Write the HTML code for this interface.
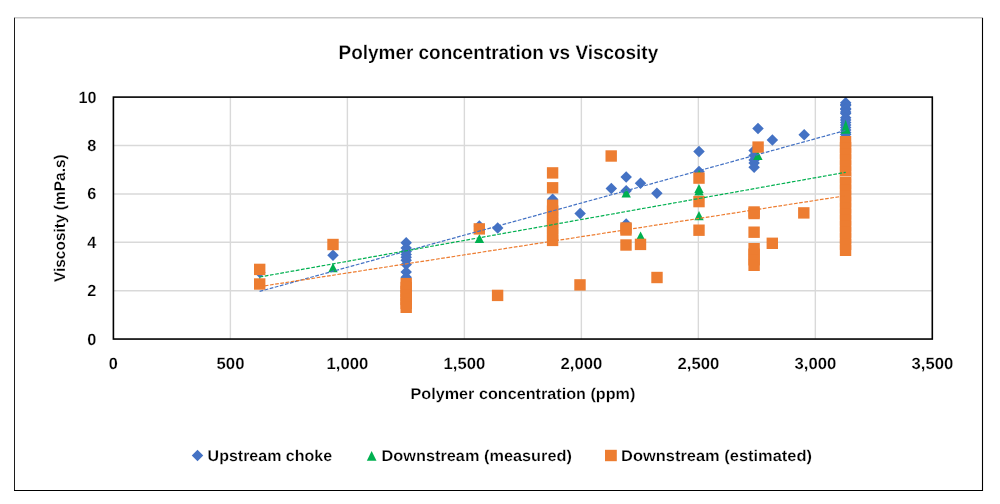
<!DOCTYPE html>
<html><head><meta charset="utf-8"><title>Polymer concentration vs Viscosity</title>
<style>html,body{margin:0;padding:0;background:#fff;width:1000px;height:504px;overflow:hidden}svg{display:block}</style>
</head><body>
<svg width="1000" height="504" viewBox="0 0 1000 504">
<rect x="0" y="0" width="1000" height="504" fill="#fff"/>
<line x1="14.5" y1="17.6" x2="14.5" y2="491" stroke="#1c1c1c" stroke-width="1"/>
<line x1="982.5" y1="17.8" x2="982.5" y2="491" stroke="#000" stroke-width="1.1"/>
<line x1="14" y1="490.5" x2="983" y2="490.5" stroke="#000" stroke-width="1.1"/>
<line x1="15" y1="17.8" x2="982" y2="17.8" stroke="#C8C8C8" stroke-width="1.5"/>
<line x1="230.39" y1="97" x2="230.39" y2="339" stroke="#D9D9D9" stroke-width="1.4"/>
<line x1="347.38" y1="97" x2="347.38" y2="339" stroke="#D9D9D9" stroke-width="1.4"/>
<line x1="464.37" y1="97" x2="464.37" y2="339" stroke="#D9D9D9" stroke-width="1.4"/>
<line x1="581.36" y1="97" x2="581.36" y2="339" stroke="#D9D9D9" stroke-width="1.4"/>
<line x1="698.35" y1="97" x2="698.35" y2="339" stroke="#D9D9D9" stroke-width="1.4"/>
<line x1="815.34" y1="97" x2="815.34" y2="339" stroke="#D9D9D9" stroke-width="1.4"/>
<line x1="113.4" y1="290.66" x2="932.3" y2="290.66" stroke="#D9D9D9" stroke-width="1.5"/>
<line x1="113.4" y1="242.27" x2="932.3" y2="242.27" stroke="#D9D9D9" stroke-width="1.5"/>
<line x1="113.4" y1="193.88" x2="932.3" y2="193.88" stroke="#D9D9D9" stroke-width="1.5"/>
<line x1="113.4" y1="145.49" x2="932.3" y2="145.49" stroke="#D9D9D9" stroke-width="1.5"/>
<path d="M259.80 266.85L265.55 272.60L259.80 278.35L254.05 272.60Z" fill="#4472C4"/>
<path d="M333.00 249.55L338.75 255.30L333.00 261.05L327.25 255.30Z" fill="#4472C4"/>
<path d="M406.20 236.90L411.95 242.65L406.20 248.40L400.45 242.65Z" fill="#4472C4"/>
<path d="M406.20 242.30L411.95 248.05L406.20 253.80L400.45 248.05Z" fill="#4472C4"/>
<path d="M406.20 245.75L411.95 251.50L406.20 257.25L400.45 251.50Z" fill="#4472C4"/>
<path d="M406.20 248.75L411.95 254.50L406.20 260.25L400.45 254.50Z" fill="#4472C4"/>
<path d="M406.20 251.55L411.95 257.30L406.20 263.05L400.45 257.30Z" fill="#4472C4"/>
<path d="M406.20 254.45L411.95 260.20L406.20 265.95L400.45 260.20Z" fill="#4472C4"/>
<path d="M406.20 258.85L411.95 264.60L406.20 270.35L400.45 264.60Z" fill="#4472C4"/>
<path d="M406.20 266.25L411.95 272.00L406.20 277.75L400.45 272.00Z" fill="#4472C4"/>
<path d="M406.20 271.45L411.95 277.20L406.20 282.95L400.45 277.20Z" fill="#4472C4"/>
<path d="M479.30 220.15L485.05 225.90L479.30 231.65L473.55 225.90Z" fill="#4472C4"/>
<path d="M497.70 222.35L503.45 228.10L497.70 233.85L491.95 228.10Z" fill="#4472C4"/>
<path d="M552.60 193.55L558.35 199.30L552.60 205.05L546.85 199.30Z" fill="#4472C4"/>
<path d="M580.10 207.65L585.85 213.40L580.10 219.15L574.35 213.40Z" fill="#4472C4"/>
<path d="M611.30 182.75L617.05 188.50L611.30 194.25L605.55 188.50Z" fill="#4472C4"/>
<path d="M626.20 171.35L631.95 177.10L626.20 182.85L620.45 177.10Z" fill="#4472C4"/>
<path d="M626.20 185.05L631.95 190.80L626.20 196.55L620.45 190.80Z" fill="#4472C4"/>
<path d="M626.20 218.25L631.95 224.00L626.20 229.75L620.45 224.00Z" fill="#4472C4"/>
<path d="M640.50 177.55L646.25 183.30L640.50 189.05L634.75 183.30Z" fill="#4472C4"/>
<path d="M656.90 187.45L662.65 193.20L656.90 198.95L651.15 193.20Z" fill="#4472C4"/>
<path d="M699.00 145.65L704.75 151.40L699.00 157.15L693.25 151.40Z" fill="#4472C4"/>
<path d="M699.00 165.75L704.75 171.50L699.00 177.25L693.25 171.50Z" fill="#4472C4"/>
<path d="M758.00 122.75L763.75 128.50L758.00 134.25L752.25 128.50Z" fill="#4472C4"/>
<path d="M772.40 134.15L778.15 139.90L772.40 145.65L766.65 139.90Z" fill="#4472C4"/>
<path d="M754.10 144.75L759.85 150.50L754.10 156.25L748.35 150.50Z" fill="#4472C4"/>
<path d="M754.10 149.75L759.85 155.50L754.10 161.25L748.35 155.50Z" fill="#4472C4"/>
<path d="M754.10 154.25L759.85 160.00L754.10 165.75L748.35 160.00Z" fill="#4472C4"/>
<path d="M754.10 157.25L759.85 163.00L754.10 168.75L748.35 163.00Z" fill="#4472C4"/>
<path d="M754.10 161.55L759.85 167.30L754.10 173.05L748.35 167.30Z" fill="#4472C4"/>
<path d="M804.20 129.05L809.95 134.80L804.20 140.55L798.45 134.80Z" fill="#4472C4"/>
<path d="M845.70 96.95L851.45 102.70L845.70 108.45L839.95 102.70Z" fill="#4472C4"/>
<path d="M845.70 98.75L851.45 104.50L845.70 110.25L839.95 104.50Z" fill="#4472C4"/>
<path d="M845.70 99.75L851.45 105.50L845.70 111.25L839.95 105.50Z" fill="#4472C4"/>
<path d="M845.70 102.85L851.45 108.60L845.70 114.35L839.95 108.60Z" fill="#4472C4"/>
<path d="M845.70 103.85L851.45 109.60L845.70 115.35L839.95 109.60Z" fill="#4472C4"/>
<path d="M845.70 106.25L851.45 112.00L845.70 117.75L839.95 112.00Z" fill="#4472C4"/>
<path d="M845.70 107.65L851.45 113.40L845.70 119.15L839.95 113.40Z" fill="#4472C4"/>
<path d="M845.70 112.05L851.45 117.80L845.70 123.55L839.95 117.80Z" fill="#4472C4"/>
<path d="M845.70 114.25L851.45 120.00L845.70 125.75L839.95 120.00Z" fill="#4472C4"/>
<path d="M845.70 116.75L851.45 122.50L845.70 128.25L839.95 122.50Z" fill="#4472C4"/>
<path d="M845.70 119.25L851.45 125.00L845.70 130.75L839.95 125.00Z" fill="#4472C4"/>
<path d="M845.70 121.75L851.45 127.50L845.70 133.25L839.95 127.50Z" fill="#4472C4"/>
<path d="M845.70 124.25L851.45 130.00L845.70 135.75L839.95 130.00Z" fill="#4472C4"/>
<path d="M845.70 126.75L851.45 132.50L845.70 138.25L839.95 132.50Z" fill="#4472C4"/>
<path d="M845.70 128.85L851.45 134.60L845.70 140.35L839.95 134.60Z" fill="#4472C4"/>
<path d="M259.80 277.40L264.50 286.60L255.10 286.60Z" fill="#00B050"/>
<path d="M333.00 263.00L337.70 272.20L328.30 272.20Z" fill="#00B050"/>
<path d="M406.20 280.40L410.90 289.60L401.50 289.60Z" fill="#00B050"/>
<path d="M479.40 233.90L484.10 243.10L474.70 243.10Z" fill="#00B050"/>
<path d="M626.20 188.40L630.90 197.60L621.50 197.60Z" fill="#00B050"/>
<path d="M640.60 231.40L645.30 240.60L635.90 240.60Z" fill="#00B050"/>
<path d="M699.00 169.40L703.70 178.60L694.30 178.60Z" fill="#00B050"/>
<path d="M699.00 183.90L703.70 193.10L694.30 193.10Z" fill="#00B050"/>
<path d="M699.00 186.40L703.70 195.60L694.30 195.60Z" fill="#00B050"/>
<path d="M699.00 211.10L703.70 220.30L694.30 220.30Z" fill="#00B050"/>
<path d="M757.90 150.90L762.60 160.10L753.20 160.10Z" fill="#00B050"/>
<path d="M845.7 119.7L850.4 133.8L841 133.8Z" fill="#00B050"/>
<rect x="254.00" y="263.70" width="11.4" height="11.4" fill="#ED7D31"/>
<rect x="254.00" y="278.30" width="11.4" height="11.4" fill="#ED7D31"/>
<rect x="327.30" y="238.80" width="11.4" height="11.4" fill="#ED7D31"/>
<rect x="400.50" y="277.90" width="11.4" height="11.4" fill="#ED7D31"/>
<rect x="400.50" y="281.85" width="11.4" height="11.4" fill="#ED7D31"/>
<rect x="400.50" y="285.80" width="11.4" height="11.4" fill="#ED7D31"/>
<rect x="400.50" y="289.75" width="11.4" height="11.4" fill="#ED7D31"/>
<rect x="400.50" y="293.70" width="11.4" height="11.4" fill="#ED7D31"/>
<rect x="400.50" y="297.65" width="11.4" height="11.4" fill="#ED7D31"/>
<rect x="400.50" y="301.60" width="11.4" height="11.4" fill="#ED7D31"/>
<rect x="473.60" y="223.20" width="11.4" height="11.4" fill="#ED7D31"/>
<rect x="491.90" y="289.70" width="11.4" height="11.4" fill="#ED7D31"/>
<rect x="546.90" y="167.20" width="11.4" height="11.4" fill="#ED7D31"/>
<rect x="546.90" y="182.10" width="11.4" height="11.4" fill="#ED7D31"/>
<rect x="546.90" y="199.60" width="11.4" height="11.4" fill="#ED7D31"/>
<rect x="546.90" y="205.45" width="11.4" height="11.4" fill="#ED7D31"/>
<rect x="546.90" y="211.30" width="11.4" height="11.4" fill="#ED7D31"/>
<rect x="546.90" y="217.15" width="11.4" height="11.4" fill="#ED7D31"/>
<rect x="546.90" y="223.00" width="11.4" height="11.4" fill="#ED7D31"/>
<rect x="546.90" y="228.85" width="11.4" height="11.4" fill="#ED7D31"/>
<rect x="546.90" y="234.70" width="11.4" height="11.4" fill="#ED7D31"/>
<rect x="574.30" y="279.20" width="11.4" height="11.4" fill="#ED7D31"/>
<rect x="605.50" y="150.30" width="11.4" height="11.4" fill="#ED7D31"/>
<rect x="620.30" y="222.30" width="11.4" height="11.4" fill="#ED7D31"/>
<rect x="620.30" y="224.30" width="11.4" height="11.4" fill="#ED7D31"/>
<rect x="620.30" y="239.30" width="11.4" height="11.4" fill="#ED7D31"/>
<rect x="634.80" y="238.70" width="11.4" height="11.4" fill="#ED7D31"/>
<rect x="651.30" y="271.80" width="11.4" height="11.4" fill="#ED7D31"/>
<rect x="693.30" y="172.40" width="11.4" height="11.4" fill="#ED7D31"/>
<rect x="693.30" y="195.90" width="11.4" height="11.4" fill="#ED7D31"/>
<rect x="693.30" y="224.50" width="11.4" height="11.4" fill="#ED7D31"/>
<rect x="752.40" y="141.40" width="11.4" height="11.4" fill="#ED7D31"/>
<rect x="748.40" y="206.30" width="11.4" height="11.4" fill="#ED7D31"/>
<rect x="748.40" y="207.80" width="11.4" height="11.4" fill="#ED7D31"/>
<rect x="748.40" y="226.50" width="11.4" height="11.4" fill="#ED7D31"/>
<rect x="748.40" y="243.00" width="11.4" height="11.4" fill="#ED7D31"/>
<rect x="748.40" y="248.53" width="11.4" height="11.4" fill="#ED7D31"/>
<rect x="748.40" y="254.07" width="11.4" height="11.4" fill="#ED7D31"/>
<rect x="748.40" y="259.60" width="11.4" height="11.4" fill="#ED7D31"/>
<rect x="766.60" y="237.60" width="11.4" height="11.4" fill="#ED7D31"/>
<rect x="798.10" y="207.20" width="11.4" height="11.4" fill="#ED7D31"/>
<rect x="839.85" y="136.00" width="11.4" height="11.4" fill="#ED7D31"/>
<rect x="839.85" y="142.03" width="11.4" height="11.4" fill="#ED7D31"/>
<rect x="839.85" y="148.07" width="11.4" height="11.4" fill="#ED7D31"/>
<rect x="839.85" y="154.10" width="11.4" height="11.4" fill="#ED7D31"/>
<rect x="839.85" y="160.13" width="11.4" height="11.4" fill="#ED7D31"/>
<rect x="839.85" y="166.17" width="11.4" height="11.4" fill="#ED7D31"/>
<rect x="839.85" y="172.20" width="11.4" height="11.4" fill="#ED7D31"/>
<rect x="839.85" y="178.23" width="11.4" height="11.4" fill="#ED7D31"/>
<rect x="839.85" y="184.27" width="11.4" height="11.4" fill="#ED7D31"/>
<rect x="839.85" y="190.30" width="11.4" height="11.4" fill="#ED7D31"/>
<rect x="839.85" y="196.33" width="11.4" height="11.4" fill="#ED7D31"/>
<rect x="839.85" y="202.37" width="11.4" height="11.4" fill="#ED7D31"/>
<rect x="839.85" y="208.40" width="11.4" height="11.4" fill="#ED7D31"/>
<rect x="839.85" y="214.43" width="11.4" height="11.4" fill="#ED7D31"/>
<rect x="839.85" y="220.47" width="11.4" height="11.4" fill="#ED7D31"/>
<rect x="839.85" y="226.50" width="11.4" height="11.4" fill="#ED7D31"/>
<rect x="839.85" y="232.53" width="11.4" height="11.4" fill="#ED7D31"/>
<rect x="839.85" y="238.57" width="11.4" height="11.4" fill="#ED7D31"/>
<rect x="839.85" y="244.60" width="11.4" height="11.4" fill="#ED7D31"/>
<line x1="840" y1="176.5" x2="851.4" y2="176.5" stroke="#F6D2B8" stroke-width="0.7"/>
<line x1="259.6" y1="291.4" x2="845.7" y2="130.4" stroke="#4472C4" stroke-dasharray="3.7 1.55" stroke-width="1.2" fill="none"/>
<line x1="259.6" y1="277" x2="845.7" y2="172.3" stroke="#00B050" stroke-dasharray="3.7 1.55" stroke-width="1.2" fill="none"/>
<line x1="259.6" y1="286.6" x2="845.7" y2="195.7" stroke="#ED7D31" stroke-dasharray="3.7 1.55" stroke-width="1.2" fill="none"/>
<rect x="113.4" y="97.1" width="818.9" height="241.95" fill="none" stroke="#000" stroke-width="1.6"/>
<path d="M197.50 449.85L203.25 455.60L197.50 461.35L191.75 455.60Z" fill="#4472C4"/>
<path d="M371.65 451.00L376.50 460.70L366.80 460.70Z" fill="#00B050"/>
<rect x="605" y="449.8" width="11.8" height="11.4" fill="#ED7D31"/>
<g font-family="'Liberation Sans', sans-serif" font-weight="bold" text-rendering="geometricPrecision" fill="#000" stroke="#fff" stroke-width="0.22" style="filter:grayscale(1)">
<text x="96.2" y="344.65" font-size="16.3" text-anchor="end" >0</text>
<text x="96.2" y="296.26" font-size="16.3" text-anchor="end" >2</text>
<text x="96.2" y="247.87" font-size="16.3" text-anchor="end" >4</text>
<text x="96.2" y="199.48" font-size="16.3" text-anchor="end" >6</text>
<text x="96.2" y="151.09" font-size="16.3" text-anchor="end" >8</text>
<text x="78.40" y="102.70" font-size="16.3" text-anchor="start" textLength="18.0" lengthAdjust="spacingAndGlyphs" >10</text>
<text x="113.40" y="368.6" font-size="16.3" text-anchor="middle" >0</text>
<text x="216.49" y="368.6" font-size="16.3" text-anchor="start" textLength="28.0" lengthAdjust="spacingAndGlyphs" >500</text>
<text x="326.58" y="368.6" font-size="16.3" text-anchor="start" textLength="41.8" lengthAdjust="spacingAndGlyphs" >1,000</text>
<text x="443.57" y="368.6" font-size="16.3" text-anchor="start" textLength="41.8" lengthAdjust="spacingAndGlyphs" >1,500</text>
<text x="560.56" y="368.6" font-size="16.3" text-anchor="start" textLength="41.8" lengthAdjust="spacingAndGlyphs" >2,000</text>
<text x="677.55" y="368.6" font-size="16.3" text-anchor="start" textLength="41.8" lengthAdjust="spacingAndGlyphs" >2,500</text>
<text x="794.54" y="368.6" font-size="16.3" text-anchor="start" textLength="41.8" lengthAdjust="spacingAndGlyphs" >3,000</text>
<text x="911.53" y="368.6" font-size="16.3" text-anchor="start" textLength="41.8" lengthAdjust="spacingAndGlyphs" >3,500</text>
<text x="338.6" y="58.7" font-size="19.6" text-anchor="start" textLength="319.6" lengthAdjust="spacingAndGlyphs" >Polymer concentration vs Viscosity</text>
<text x="410.5" y="398.8" font-size="15.6" text-anchor="start" textLength="224.9" lengthAdjust="spacingAndGlyphs" >Polymer concentration (ppm)</text>
<g transform="translate(65.1,282.1) rotate(-90)"><text x="0" y="0" font-size="15.6" text-anchor="start" textLength="127.8" lengthAdjust="spacingAndGlyphs" >Viscosity (mPa.s)</text></g>
<text x="207.6" y="460.9" font-size="15.6" text-anchor="start" textLength="124.5" lengthAdjust="spacingAndGlyphs" >Upstream choke</text>
<text x="381.5" y="460.9" font-size="15.6" text-anchor="start" textLength="190.4" lengthAdjust="spacingAndGlyphs" >Downstream (measured)</text>
<text x="621.0" y="460.9" font-size="15.6" text-anchor="start" textLength="191.0" lengthAdjust="spacingAndGlyphs" >Downstream (estimated)</text>
</g>
</svg>
</body></html>
